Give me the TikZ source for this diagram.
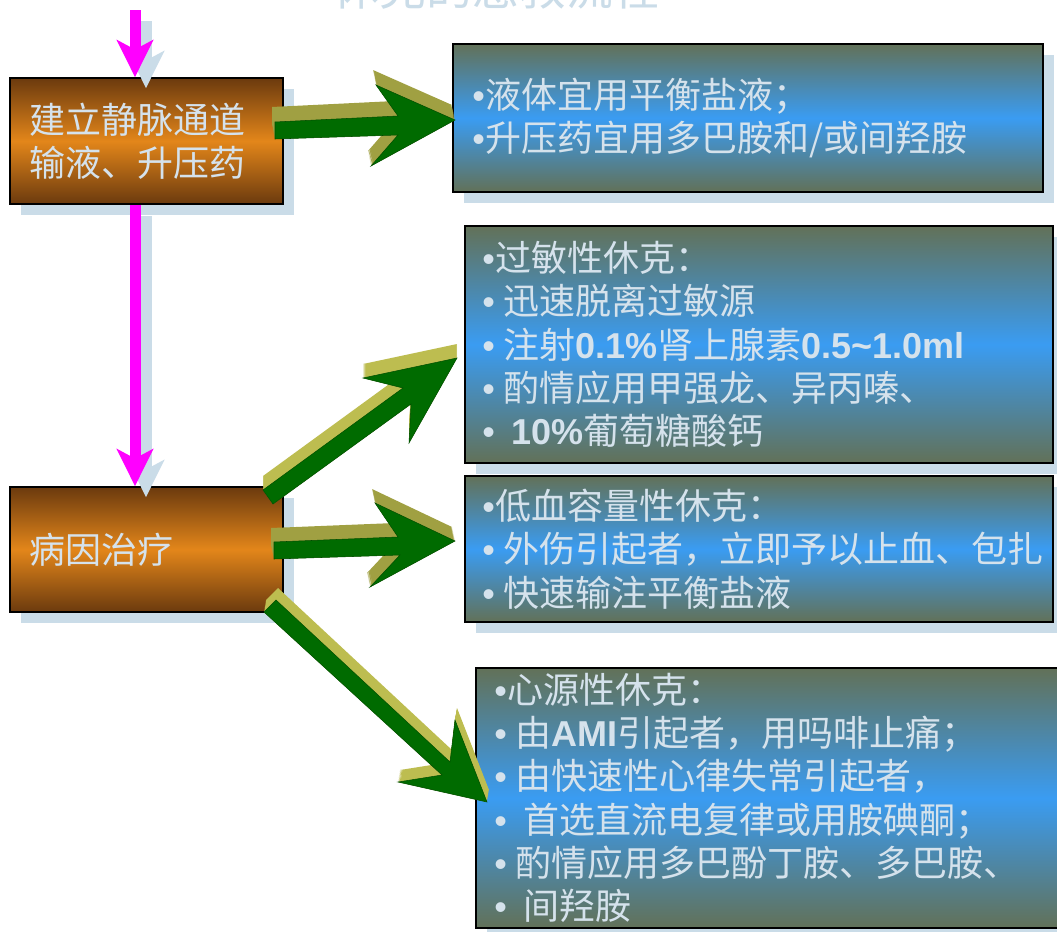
\documentclass[tikz,border=0pt]{standalone}
\usepackage{fontspec}
\setmainfont{Liberation Sans}
\newfontfamily\cjk{Noto Sans CJK SC}
\newfontfamily\latb{Liberation Sans}
\usetikzlibrary{arrows.meta,shadows}
\definecolor{txtc}{HTML}{D5E2EC}
\definecolor{shadowc}{HTML}{CADCE8}
\definecolor{magc}{HTML}{FF00FF}
\definecolor{brownc}{HTML}{6B3A0E}
\definecolor{orangec}{HTML}{E3861A}
\definecolor{olivegc}{HTML}{627158}
\definecolor{bluec}{HTML}{3A9CF2}
\definecolor{greenc}{HTML}{006B00}
\definecolor{greend}{HTML}{004F00}
\definecolor{olivec}{HTML}{A0A042}
\definecolor{olivelc}{HTML}{BDBD50}
\newcommand{\lb}[1]{{\latb\bfseries #1}}
\newcommand{\bu}{{\latb •}}
\newcommand{\tdarrow}[4]{%
  \foreach \s in {0,1,...,14}{%
    \fill[fill=#4, shift={({\s/14*(#1)},{\s/14*(#2)})}] #3;}%
  \fill[arrowfront] #3;}
\begin{document}
\begin{tikzpicture}[x=0.75pt,y=-0.75pt,
  box/.style={draw=black, line width=1.2pt, inner sep=0pt,
    drop shadow={shadow xshift=8.25pt, shadow yshift=-8.25pt, fill=shadowc, opacity=1}},
  orangebox/.style={box, top color=brownc, bottom color=brownc, middle color=orangec, minimum width=204.75pt},
  bluebox/.style={box, top color=olivegc, bottom color=olivegc, middle color=bluec},
  boxtxt/.style={text=txtc, font=\cjk\fontsize{27}{32.5}\selectfont, align=left, anchor=west, inner sep=0pt},
  magarrow/.style={draw=magc, line width=8.25pt, -{Stealth[length=27.75pt, width=27pt, inset=7pt]}},
  magshadow/.style={magarrow, draw=shadowc, transform canvas={xshift=8.25pt, yshift=-8.25pt}},
  arrowfront/.style={fill=greenc, draw=greend, line width=0.4pt}]
\useasboundingbox (0,0) rectangle (1057,932);
\clip (0,0) rectangle (1057,932);
\fill[white] (0,0) rectangle (1057,932);

% title (cut off at the top edge, as in the reference)
\node[anchor=base, text=shadowc, font=\cjk\fontsize{35}{40}\selectfont, inner sep=0pt] (title) at (496,5) {休克的急救流程};

% boxes
\node[orangebox, minimum height=94.5pt] (b1) at (146.5,141) {};
\node[orangebox, minimum height=93.75pt] (b6) at (146.5,549.5) {};
\node[bluebox, minimum width=442.5pt, minimum height=111pt] (b2) at (748,118) {};
\node[bluebox, minimum width=441pt, minimum height=177.75pt] (b3) at (759,344.5) {};
\node[bluebox, minimum width=441pt, minimum height=109.5pt] (b4) at (759,549) {};
\node[bluebox, minimum width=442.5pt, minimum height=195pt] (b5) at (771,798) {};

% texts
\node[boxtxt] (t1) at ([xshift=15pt]b1.west) {建立静脉通道\\输液、升压药};
\node[boxtxt] (t6) at ([xshift=15pt]b6.west) {病因治疗};
\node[boxtxt] (t2) at ([xshift=15pt]b2.west) {\bu 液体宜用平衡盐液；\\\bu 升压药宜用多巴胺和/或间羟胺};
\node[boxtxt] (t3) at ([xshift=13.5pt]b3.west) {\bu 过敏性休克：\\\bu\ 迅速脱离过敏源\\\bu\ 注射\lb{0.1\%}肾上腺素\lb{0.5\textasciitilde1.0ml}\\\bu\ 酌情应用甲强龙、异丙嗪、\\\bu\ \ \lb{10\%}葡萄糖酸钙};
\node[boxtxt] (t4) at ([xshift=13.5pt]b4.west) {\bu 低血容量性休克：\\\bu\ 外伤引起者，立即予以止血、包扎\\\bu\ 快速输注平衡盐液};
\node[boxtxt] (t5) at ([xshift=14.25pt]b5.west) {\bu 心源性休克：\\\bu\ 由\lb{AMI}引起者，用吗啡止痛；\\\bu\ 由快速性心律失常引起者，\\\bu\ \ 首选直流电复律或用胺碘酮；\\\bu\ 酌情应用多巴酚丁胺、多巴胺、\\\bu\ \ 间羟胺};

% magenta connectors
\coordinate (src) at (135,10);
\draw[magshadow] (src) -- (src |- b1.north);
\draw[magshadow] (b1.south -| src) -- (b6.north -| src);
\draw[magarrow] (src) -- (src |- b1.north);
\draw[magarrow] (b1.south -| src) -- (b6.north -| src);

% green 3D arrows
\tdarrow{-3}{-15}{(275,122) -- (398,116) -- (376,85) -- (455,120) -- (371,166) -- (398,135) -- (275,139) -- cycle}{olivec}
\tdarrow{0}{-14}{(263,490) -- (403,388) -- (363,378) -- (457,358) -- (409,443) -- (411,404) -- (273,504) -- cycle}{olivelc}
\tdarrow{-3}{-14}{(274,542) -- (398,537) -- (375,503) -- (455,541) -- (370,587) -- (400,555) -- (274,559) -- cycle}{olivec}
\tdarrow{2}{-12}{(264,612) -- (276,600) -- (450,762) -- (455,720) -- (487,802) -- (398,782) -- (442,775) -- cycle}{olivelc}
\end{tikzpicture}
\end{document}
